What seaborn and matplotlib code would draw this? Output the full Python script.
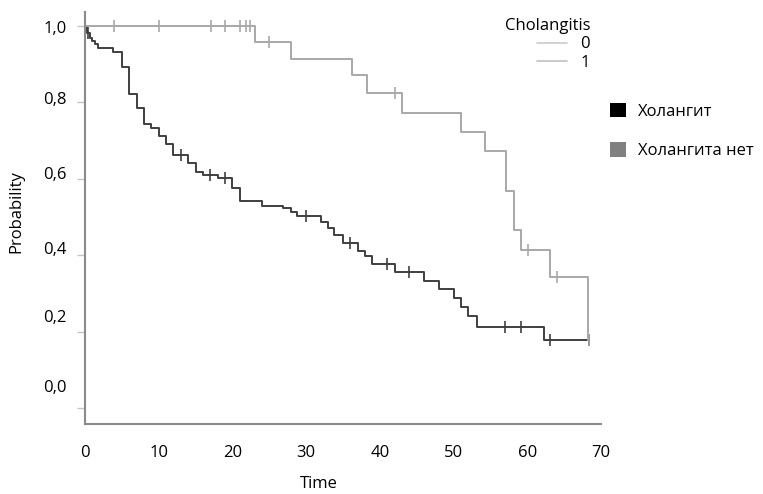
import numpy as np
import pandas as pd
import matplotlib
matplotlib.use("Agg")
import matplotlib.pyplot as plt
from matplotlib.lines import Line2D
from matplotlib.patches import Patch
import seaborn as sns

# Kaplan-Meier steps
# cholangitis = 1 (dark curve)
chol_times = [0, 0.3, 0.7, 1.0, 1.4, 1.7, 3.8, 5.0, 6.0, 7.0, 8.0, 9.0, 10.0, 11.0, 12.0,
              14.0, 15.0, 16.0, 18.0, 20.0, 21.0, 24.0, 26.8, 27.9, 28.8, 32.0, 32.9,
              33.8, 35.0, 37.0, 38.0, 39.0, 42.0, 46.0, 48.0, 50.0, 51.0, 52.0, 53.2, 62.2]
chol_surv = [1.0, 0.982, 0.97, 0.96, 0.952, 0.942, 0.932, 0.893, 0.822, 0.785, 0.743, 0.733,
             0.712, 0.691, 0.662, 0.641, 0.618, 0.610, 0.602, 0.576, 0.542, 0.529, 0.524,
             0.513, 0.503, 0.487, 0.471, 0.453, 0.432, 0.410, 0.398, 0.377, 0.356, 0.332,
             0.311, 0.288, 0.265, 0.241, 0.212, 0.178]
chol_end = 68.4
chol_censor = [0.4, 13.0, 17.0, 19.0, 30.0, 36.0, 41.0, 44.0, 57.0, 59.2, 63.1, 68.4]

# cholangitis = 0 (light curve)
nochol_times = [0, 23.0, 28.0, 36.2, 38.2, 43.0, 51.0, 54.2, 57.1, 58.2, 59.2, 63.1, 68.2]
nochol_surv = [1.0, 0.958, 0.914, 0.872, 0.825, 0.772, 0.722, 0.673, 0.568, 0.466, 0.414,
               0.343, 0.178]
nochol_end = 68.4
nochol_censor = [3.9, 10.0, 17.1, 19.0, 21.0, 21.8, 22.4, 25.0, 42.0, 60.1, 64.0, 68.4]

x_ticks = [0, 10, 20, 30, 40, 50, 60, 70]
y_ticks = [0.0, 0.2, 0.4, 0.6, 0.8, 1.0]
y_tick_labels = ["0,0", "0,2", "0,4", "0,6", "0,8", "1,0"]
# the printed labels sit slightly off their tick marks in the original
y_label_pos = [0.058, 0.24, 0.42, 0.615, 0.812, 0.997]

dark = "#3f3f3f"
light = "#a8a8a8"


def steps(times, surv, end, name):
    return pd.DataFrame({"time": list(times) + [end],
                         "surv": list(surv) + [surv[-1]],
                         "group": name})


def censor_points(times, surv, censor, name):
    idx = np.searchsorted(times, censor, side="right") - 1
    return pd.DataFrame({"time": censor, "surv": np.array(surv)[idx], "group": name})


curves = pd.concat([steps(chol_times, chol_surv, chol_end, "1"),
                    steps(nochol_times, nochol_surv, nochol_end, "0")], ignore_index=True)
marks = pd.concat([censor_points(chol_times, chol_surv, chol_censor, "1"),
                   censor_points(nochol_times, nochol_surv, nochol_censor, "0")],
                  ignore_index=True)

sns.set_style("white")
plt.rcParams["font.family"] = ["Open Sans", "DejaVu Sans"]
plt.rcParams["font.size"] = 12
plt.rcParams["text.color"] = "black"
plt.rcParams["axes.labelcolor"] = "black"
plt.rcParams["xtick.color"] = "black"
plt.rcParams["ytick.color"] = "black"

fig = plt.figure(figsize=(7.63, 4.94), dpi=100)
ax = fig.add_axes([85 / 763, 1 - 424 / 494, 516 / 763, 412 / 494])

palette = {"1": dark, "0": light}
sns.lineplot(data=curves, x="time", y="surv", hue="group", palette=palette,
             drawstyle="steps-post", estimator=None, sort=False, legend=False,
             linewidth=1.4, ax=ax)
sns.scatterplot(data=marks, x="time", y="surv", hue="group", palette=palette,
                marker="|", s=70, linewidth=1.2, legend=False, ax=ax)

ax.set_xlim(0, 70)
ax.set_ylim(-0.042, 1.037)

for side in ["top", "right"]:
    ax.spines[side].set_visible(False)
for side in ["left", "bottom"]:
    ax.spines[side].set_color("#8a8a8a")
    ax.spines[side].set_linewidth(1.5)

ax.set_xticks(x_ticks)
ax.set_xticklabels([str(v) for v in x_ticks])
ax.tick_params(axis="x", length=5, width=1.2, color="#6a6a6a", pad=10, labelsize=12)

ax.set_yticks(y_label_pos)
ax.set_yticklabels(y_tick_labels)
ax.set_yticks(y_ticks, minor=True)
ax.tick_params(axis="y", which="major", length=0, pad=13, labelsize=12)
ax.tick_params(axis="y", which="minor", length=6, width=1.0, color="#c4c4c4", left=True)

ax.set_xlabel("Time", fontsize=12)
ax.set_ylabel("Probability", fontsize=12)
ax.xaxis.set_label_coords(0.453, -0.125)
ax.yaxis.set_label_coords(-0.118, 0.515)

leg1 = ax.legend(handles=[Line2D([], [], color="#cfcfcf", lw=1.3),
                          Line2D([], [], color="#c6c6c6", lw=1.3)],
                 labels=["0", "1"], title="Cholangitis", loc="upper right",
                 bbox_to_anchor=(590 / 763, 1 - 18 / 494), bbox_transform=fig.transFigure,
                 frameon=False, borderpad=0, borderaxespad=0, labelspacing=0.15,
                 handlelength=1.8, handletextpad=0.8, fontsize=12, title_fontsize=12,
                 alignment="right")
ax.add_artist(leg1)

ax.legend(handles=[Patch(facecolor="#000000", edgecolor="none"),
                   Patch(facecolor="#808080", edgecolor="none")],
          labels=["Холангит", "Холангита нет"], loc="upper left",
          bbox_to_anchor=(610 / 763, 1 - 103 / 494), bbox_transform=fig.transFigure,
          frameon=False, borderpad=0, borderaxespad=0, labelspacing=1.35,
          handlelength=0.95, handleheight=0.95, handletextpad=0.7, fontsize=12)

fig.savefig("out.png", dpi=100)
